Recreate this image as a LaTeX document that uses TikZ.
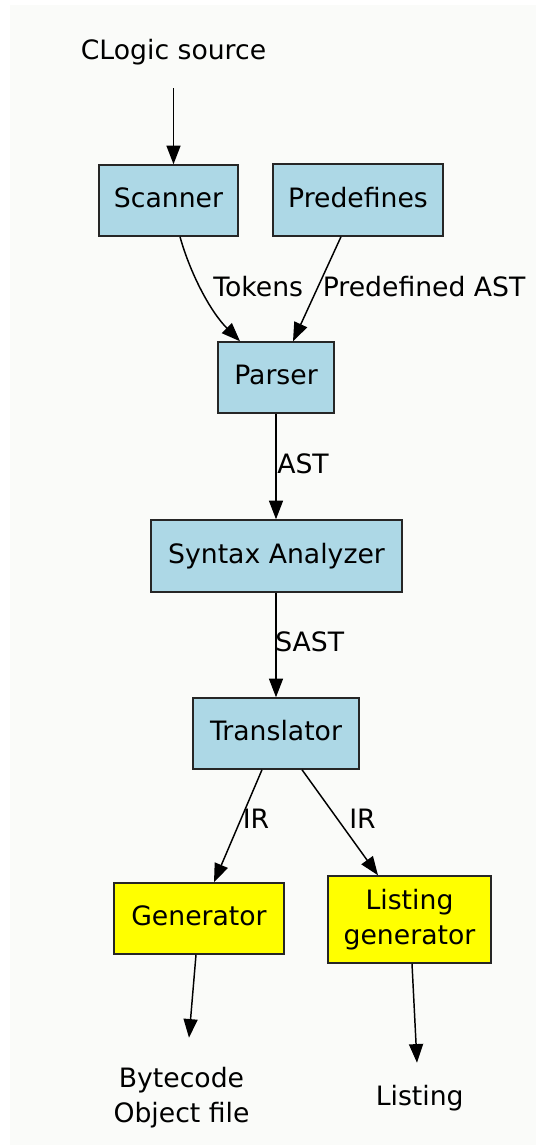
\documentclass[tikz,border=0pt]{standalone}
\usepackage{fontspec}
\setmainfont{DejaVu Sans}
\usetikzlibrary{arrows.meta,calc}

\definecolor{pagebg}{RGB}{250,251,249}
\definecolor{stageblue}{RGB}{173,216,230}
\definecolor{outyellow}{RGB}{255,255,0}

\tikzset{
  onerow/.style={text height=15.2pt, text depth=4.7pt},
  stage/.style={draw=black!85, line width=1.1pt, fill=stageblue, inner sep=0pt, align=center},
  outstage/.style={stage, fill=outyellow},
  plain/.style={inner sep=0pt, align=center},
  lbl/.style={inner sep=0pt},
  edge/.style={line width=1.1pt, -{Triangle[length=14pt,width=10.5pt]}}
}

\begin{document}
\begin{tikzpicture}[x=0.75pt, y=-0.75pt, font=\fontsize{20}{26.25}\selectfont]
  \useasboundingbox (0,0) rectangle (536,1147);
  \fill[pagebg] (10,5) rectangle (536,1145);

  % input and stages
  \node[plain, onerow, minimum height=54pt] (src) at (173.5,52) {CLogic source};
  \node[stage, onerow, minimum width=104.25pt, minimum height=53.25pt] (scanner) at (168.5,200.5) {Scanner};
  \node[stage, onerow, minimum width=127.5pt, minimum height=54pt] (predef) at (358,200) {Predefines};
  \node[stage, onerow, minimum width=87pt, minimum height=53.25pt] (parser) at (276,377.5) {Parser};
  \node[stage, onerow, minimum width=188.25pt, minimum height=54pt] (syntax) at (276.5,556) {Syntax Analyzer};
  \node[stage, onerow, minimum width=124.5pt, minimum height=53.25pt] (trans) at (276,733.5) {Translator};
  \node[outstage, onerow, minimum width=127.5pt, minimum height=53.25pt] (gen) at (199,918.5) {Generator};
  \node[outstage, minimum width=122.25pt, minimum height=65.25pt] (lgen) at (409.5,919.5) {Listing\\generator};

  % outputs
  \node[plain, minimum height=89.25pt] (obj) at (181.5,1097.5) {Bytecode\\Object file};
  \node[plain, onerow, minimum height=52.5pt] (lst) at (419.7,1098) {Listing};

  % connectors
  \draw[edge] (src.south) -- (src.south |- scanner.north);
  \draw[edge] ($(scanner.south)+(11.5,0)$) .. controls +(10,36) and +(-30,-30) .. ($(parser.north)+(-36,0)$);
  \draw[edge] ($(predef.south)+(-17,0)$) -- ($(parser.north)+(17,0)$);
  \draw[edge] (parser.south) -- (parser.south |- syntax.north);
  \draw[edge] (syntax.south -| trans.north) -- (trans.north);
  \draw[edge] ($(trans.south)+(-14,0)$) -- ($(gen.north)+(15,0)$);
  \draw[edge] ($(trans.south)+(26,0)$) -- ($(lgen.north)+(-31.5,0)$);
  \draw[edge] ($(gen.south)+(-3,0)$) -- ($(obj.north)+(7.5,0)$);
  \draw[edge] ($(lgen.south)+(2.5,0)$) -- ($(lst.north)+(-2.7,0)$);

  % connector labels
  \node[lbl, anchor=base west] (ltok) at (213,296) {Tokens};
  \node[lbl, anchor=base west] (lpre) at (322.5,296) {Predefined AST};
  \node[lbl, anchor=base west] (last) at (277,473) {AST};
  \node[lbl, anchor=base west] (lsast) at (275,651) {SAST};
  \node[lbl, anchor=base west] (lir1) at (242.5,828) {IR};
  \node[lbl, anchor=base west] (lir2) at (349,828) {IR};
\end{tikzpicture}
\end{document}
